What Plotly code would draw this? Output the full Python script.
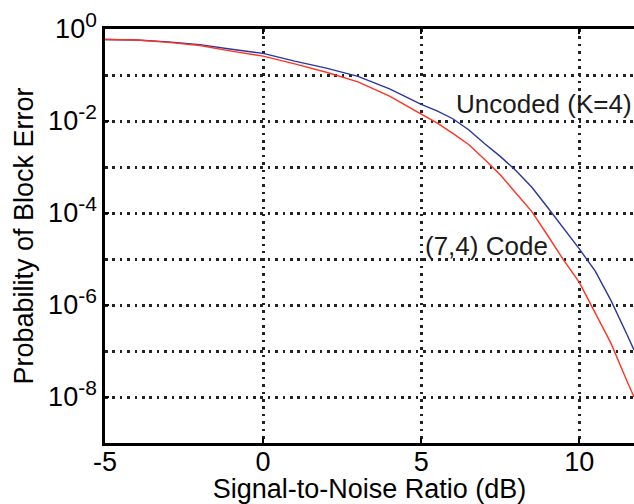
import plotly.graph_objects as go

# SNR grid (dB)
snr_db = [-5, -4, -3, -2, -1, 0, 1, 2, 3, 4, 5, 5.5, 6, 6.5, 7, 7.5, 8, 8.5,
          9, 9.5, 10, 10.5, 11, 11.5, 11.73]

# Probability of block error, uncoded (K=4)
p_uncoded = [5.9e-1, 5.75e-1, 5.25e-1, 4.57e-1, 3.63e-1, 2.95e-1, 2.0e-1, 1.41e-1,
             9.33e-2, 5.01e-2, 2.29e-2, 1.66e-2, 1.12e-2, 6.46e-3, 3.24e-3, 1.70e-3,
             8.32e-4, 3.63e-4, 1.32e-4, 4.68e-5, 1.66e-5, 5.50e-6, 1.26e-6, 2.34e-7,
             1.05e-7]

# Probability of block error, (7,4) code
p_coded = [5.9e-1, 5.75e-1, 5.13e-1, 4.37e-1, 3.31e-1, 2.57e-1, 1.74e-1, 1.15e-1,
           7.08e-2, 3.47e-2, 1.41e-2, 9.12e-3, 5.37e-3, 3.09e-3, 1.48e-3, 6.76e-4,
           2.69e-4, 1.07e-4, 3.24e-5, 9.55e-6, 3.09e-6, 6.92e-7, 1.48e-7, 2.29e-8,
           1.0e-8]

x_ticks = [-5, 0, 5, 10]
x_tick_text = ["-5", "0", "5", "10"]
y_major = [1e-8, 1e-6, 1e-4, 1e-2, 1e0]
y_exponents = ["-8", "-6", "-4", "-2", "0"]
y_minor = [1e-7, 1e-5, 1e-3, 1e-1]

label_uncoded = "Uncoded (K=4)"
label_coded = "(7,4) Code"

FONT = "Liberation Sans, Arial, sans-serif"
FS = 27
FS_ANN = 26
GRID_DASH = "2.5px,4.9px"

y_major_text = ['10<sup><span style="font-size:21px">%s</span></sup>' % e
                for e in y_exponents]

fig = go.Figure()
fig.add_trace(go.Scatter(x=snr_db, y=p_uncoded, mode="lines",
                         line=dict(color="#2a35a0", width=1.4), showlegend=False))
fig.add_trace(go.Scatter(x=snr_db, y=p_coded, mode="lines",
                         line=dict(color="#ff3322", width=1.4), showlegend=False))

fig.add_annotation(x=6.05, y=-1.63, text=label_uncoded, showarrow=False,
                   xanchor="left", yanchor="middle",
                   font=dict(family=FONT, size=FS_ANN, color="#1a1a1a"))
fig.add_annotation(x=5.05, y=-4.72, text=label_coded, showarrow=False,
                   xanchor="left", yanchor="middle",
                   font=dict(family=FONT, size=FS_ANN, color="#1a1a1a"))

fig.update_layout(
    width=634, height=504,
    margin=dict(l=105, r=0, t=29, b=61, autoexpand=False),
    paper_bgcolor="white", plot_bgcolor="white",
    font=dict(family=FONT, size=FS, color="black"),
    showlegend=False,
)
fig.update_xaxes(
    range=[-5, 11.73], tickvals=x_ticks, ticktext=x_tick_text,
    ticks="inside", ticklen=5, tickcolor="black", tickwidth=2,
    ticklabelstandoff=-7,
    showline=True, linecolor="black", linewidth=2.5, mirror="ticks",
    showgrid=True, gridcolor="#222", gridwidth=2.5, griddash=GRID_DASH,
    zeroline=False, automargin=False,
    title=dict(text="Signal-to-Noise Ratio (dB)", standoff=4,
               font=dict(family=FONT, size=FS)),
    tickfont=dict(family=FONT, size=FS),
)
fig.update_yaxes(
    type="log", range=[-9, 0], tickvals=y_major, ticktext=y_major_text,
    ticks="inside", ticklen=4, tickcolor="black", tickwidth=2,
    showline=True, linecolor="black", linewidth=2.5, mirror=False,
    showgrid=True, gridcolor="#222", gridwidth=2.5, griddash=GRID_DASH,
    minor=dict(tickvals=y_minor, showgrid=True, gridcolor="#222",
               gridwidth=2.5, griddash=GRID_DASH, ticks=""),
    zeroline=False, automargin=False,
    title=dict(text="Probability of Block Error", standoff=7,
               font=dict(family=FONT, size=FS)),
    tickfont=dict(family=FONT, size=FS),
)

fig.write_html(
    "out.html",
    config={"responsive": False, "displayModeBar": False},
    post_script="document.body.style.margin='0';document.body.style.overflow='hidden';",
)
